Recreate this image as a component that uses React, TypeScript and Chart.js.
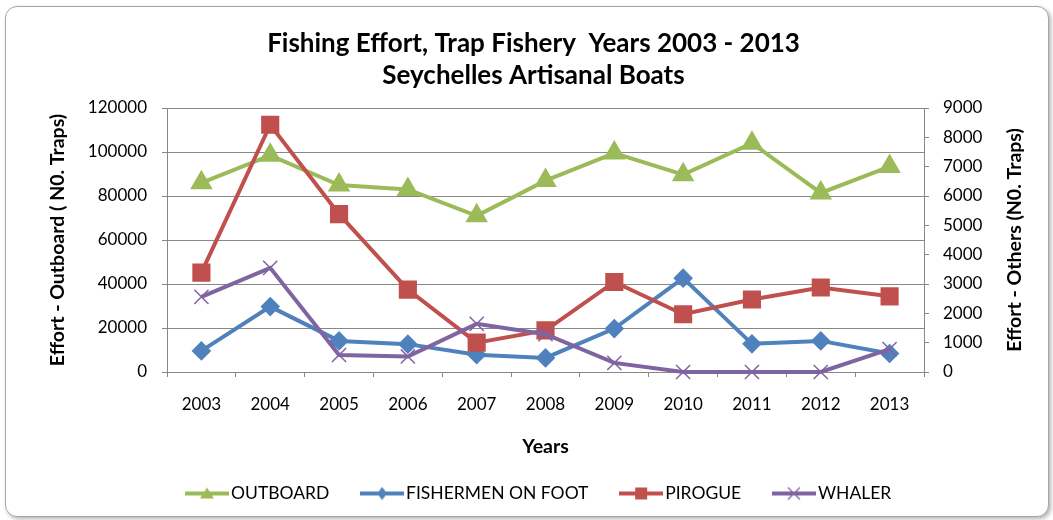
import React, { useEffect, useRef } from 'react';
import { Chart, registerables } from 'chart.js';

Chart.register(...registerables);

const years = ['2003', '2004', '2005', '2006', '2007', '2008', '2009', '2010', '2011', '2012', '2013'];
const outboard = [86000, 98500, 85000, 83000, 71000, 87000, 99500, 89700, 104000, 81400, 93400];
const fishermenOnFoot = [720, 2230, 1060, 950, 590, 480, 1480, 3200, 960, 1060, 630];
const pirogue = [3390, 8430, 5380, 2810, 1000, 1420, 3070, 1970, 2470, 2880, 2580];
const whaler = [2560, 3550, 580, 530, 1640, 1290, 310, 0, 0, 0, 780];

const seriesNames = ['OUTBOARD', 'FISHERMEN ON FOOT', 'PIROGUE', 'WHALER'];
const seriesColors = ['#9BBB59', '#4F81BD', '#C0504D', '#8064A2'];

const leftMax = 120000;
const leftStep = 20000;
const rightMax = 9000;
const rightStep = 1000;

const titleLines = ['Fishing Effort, Trap Fishery  Years 2003 - 2013', 'Seychelles Artisanal Boats'];
const leftTitle = 'Effort - Outboard ( N0. Traps)';
const rightTitle = 'Effort - Others (N0. Traps)';
const xTitle = 'Years';

const FONT = 'Lato';
const GRID = '#888888';
const W = 1053;
const H = 520;
const PLOT_LEFT = 167;
const PLOT_RIGHT = 924;
const PLOT_BOTTOM = 372;
const AXIS_TITLE_SIZE = 19.5;
const TICK_SIZE = 17;

const ICON_W = 44;
const ICON_H = 20;

function makeIcon(color: string, kind: string): HTMLCanvasElement {
  const c = document.createElement('canvas');
  c.width = ICON_W;
  c.height = ICON_H;
  const g = c.getContext('2d') as CanvasRenderingContext2D;
  g.strokeStyle = color;
  g.fillStyle = color;
  g.lineWidth = 4;
  g.beginPath();
  g.moveTo(0, ICON_H / 2);
  g.lineTo(ICON_W, ICON_H / 2);
  g.stroke();
  const cx = ICON_W / 2;
  const cy = ICON_H / 2;
  g.lineWidth = 1;
  g.beginPath();
  if (kind === 'triangle') {
    g.moveTo(cx, cy - 6);
    g.lineTo(cx + 7, cy + 5);
    g.lineTo(cx - 7, cy + 5);
    g.closePath();
    g.fill();
  } else if (kind === 'diamond') {
    g.moveTo(cx, cy - 6.5);
    g.lineTo(cx + 5, cy);
    g.lineTo(cx, cy + 6.5);
    g.lineTo(cx - 5, cy);
    g.closePath();
    g.fill();
  } else if (kind === 'square') {
    g.rect(cx - 6, cy - 6, 12, 12);
    g.fill();
  } else {
    g.lineWidth = 1.3;
    g.moveTo(cx - 6, cy - 6);
    g.lineTo(cx + 6, cy + 6);
    g.moveTo(cx + 6, cy - 6);
    g.lineTo(cx - 6, cy + 6);
    g.stroke();
  }
  return c;
}

const LEGEND_FONT = 17.5;
const LEGEND_BOXW = 30.5;
const LEGEND_PAD = 37.5;

const layoutFix = {
  id: 'layoutFix',
  afterLayout(chart: any) {
    const lg = chart.legend;
    if (lg) {
      lg.left = 185 - LEGEND_PAD - LEGEND_BOXW / 2 + ICON_W / 2;
      lg.top = 493.5 - LEGEND_PAD - LEGEND_FONT / 2;
    }
    const tb = chart.titleBlock;
    if (tb) {
      tb.left = 14;
      tb.right = W;
    }
  },
  afterDraw(chart: any) {
    const { ctx, chartArea } = chart;
    ctx.save();
    ctx.translate(1015, (chartArea.top + chartArea.bottom) / 2);
    ctx.rotate(-Math.PI / 2);
    ctx.font = `bold ${AXIS_TITLE_SIZE}px ${FONT}`;
    ctx.fillStyle = '#000';
    ctx.textAlign = 'center';
    ctx.textBaseline = 'middle';
    ctx.fillText(rightTitle, 0, 0);
    ctx.restore();
  },
};

export default function App() {
  const ref = useRef<HTMLCanvasElement | null>(null);

  useEffect(() => {
    if (!ref.current) return;
    const icons = [
      makeIcon(seriesColors[0], 'triangle'),
      makeIcon(seriesColors[1], 'diamond'),
      makeIcon(seriesColors[2], 'square'),
      makeIcon(seriesColors[3], 'cross'),
    ];
    const chart = new Chart(ref.current, {
      type: 'line',
      data: {
        labels: years,
        datasets: [
          {
            label: seriesNames[0],
            data: outboard,
            yAxisID: 'y',
            borderColor: seriesColors[0],
            backgroundColor: seriesColors[0],
            pointBackgroundColor: seriesColors[0],
            pointBorderColor: seriesColors[0],
            pointStyle: 'triangle',
            pointRadius: 9,
            borderWidth: 4,
            order: 4,
            clip: false,
          },
          {
            label: seriesNames[1],
            data: fishermenOnFoot,
            yAxisID: 'y1',
            borderColor: seriesColors[1],
            backgroundColor: seriesColors[1],
            pointBackgroundColor: seriesColors[1],
            pointBorderColor: seriesColors[1],
            pointStyle: 'rectRot',
            pointRadius: 7,
            borderWidth: 4,
            order: 3,
            clip: false,
          },
          {
            label: seriesNames[2],
            data: pirogue,
            yAxisID: 'y1',
            borderColor: seriesColors[2],
            backgroundColor: seriesColors[2],
            pointBackgroundColor: seriesColors[2],
            pointBorderColor: seriesColors[2],
            pointStyle: 'rect',
            pointRadius: 10,
            borderWidth: 4,
            order: 2,
            clip: false,
          },
          {
            label: seriesNames[3],
            data: whaler,
            yAxisID: 'y1',
            borderColor: seriesColors[3],
            backgroundColor: seriesColors[3],
            pointBackgroundColor: seriesColors[3],
            pointBorderColor: seriesColors[3],
            pointStyle: 'crossRot',
            pointRadius: 10,
            pointBorderWidth: 1.5,
            borderWidth: 4,
            order: 1,
            clip: false,
          },
        ],
      },
      options: {
        responsive: false,
        animation: false,
        devicePixelRatio: 1,
        layout: { padding: 0 },
        font: { family: FONT },
        plugins: {
          tooltip: { enabled: false },
          title: {
            display: true,
            text: titleLines,
            color: '#000',
            font: { family: FONT, size: 26, weight: 'bold', lineHeight: 32.5 / 26 },
            padding: { top: 27, bottom: 16 },
          },
          legend: {
            display: true,
            position: 'bottom',
            align: 'start',
            maxHeight: 50,
            labels: {
              usePointStyle: true,
              pointStyleWidth: LEGEND_BOXW,
              padding: LEGEND_PAD,
              color: '#000',
              font: { family: FONT, size: LEGEND_FONT },
              generateLabels: (ch: any) =>
                ch.data.datasets.map((ds: any, i: number) => ({
                  text: ds.label,
                  pointStyle: icons[i],
                  fillStyle: seriesColors[i],
                  strokeStyle: seriesColors[i],
                  fontColor: '#000',
                  lineWidth: 0,
                  hidden: false,
                  datasetIndex: i,
                })),
            },
          },
        },
        scales: {
          x: {
            type: 'category',
            offset: true,
            afterFit: (s: any) => {
              const lgH = s.chart.legend ? s.chart.legend.height : 0;
              s.height = H - PLOT_BOTTOM - lgH;
            },
            grid: {
              offset: true,
              drawOnChartArea: false,
              drawTicks: true,
              tickLength: 5,
              color: GRID,
            },
            border: { color: GRID, width: 1 },
            ticks: {
              color: '#000',
              padding: 17,
              font: { family: FONT, size: TICK_SIZE },
              maxRotation: 0,
              autoSkip: false,
            },
            title: {
              display: true,
              text: xTitle,
              color: '#000',
              font: { family: FONT, size: AXIS_TITLE_SIZE, weight: 'bold' },
              padding: { top: 0, bottom: 12 },
            },
          },
          y: {
            type: 'linear',
            position: 'left',
            min: 0,
            max: leftMax,
            afterFit: (s: any) => {
              s.width = PLOT_LEFT;
            },
            grid: {
              color: GRID,
              lineWidth: 1,
              drawTicks: true,
              tickLength: 5,
            },
            border: { color: GRID, width: 1 },
            ticks: {
              stepSize: leftStep,
              color: '#000',
              padding: 15,
              font: { family: FONT, size: TICK_SIZE },
              callback: (v: any) => String(v),
            },
            title: {
              display: true,
              text: leftTitle,
              color: '#000',
              font: { family: FONT, size: AXIS_TITLE_SIZE, weight: 'bold' },
              padding: { top: 46, bottom: 0 },
            },
          },
          y1: {
            type: 'linear',
            position: 'right',
            min: 0,
            max: rightMax,
            afterFit: (s: any) => {
              s.width = W - PLOT_RIGHT;
            },
            grid: {
              drawOnChartArea: false,
              drawTicks: true,
              tickLength: 5,
              color: GRID,
            },
            border: { color: GRID, width: 1 },
            ticks: {
              stepSize: rightStep,
              color: '#000',
              padding: 14,
              font: { family: FONT, size: TICK_SIZE },
              callback: (v: any) => String(v),
            },
          },
        },
      },
      plugins: [layoutFix],
    } as any);
    return () => chart.destroy();
  }, []);

  return (
    <div style={{ position: 'fixed', left: 0, top: 0, width: W, height: H, background: '#fff', overflow: 'hidden' }}>
      <div
        style={{
          position: 'absolute',
          left: 5,
          top: 6,
          width: 1042,
          height: 509,
          border: '1px solid #a6a6a6',
          borderRadius: 12,
          boxShadow: '2px 2px 4px rgba(0,0,0,0.3)',
          background: '#fff',
        }}
      />
      <canvas ref={ref} width={W} height={H} style={{ position: 'absolute', left: 0, top: 0 }} />
    </div>
  );
}
